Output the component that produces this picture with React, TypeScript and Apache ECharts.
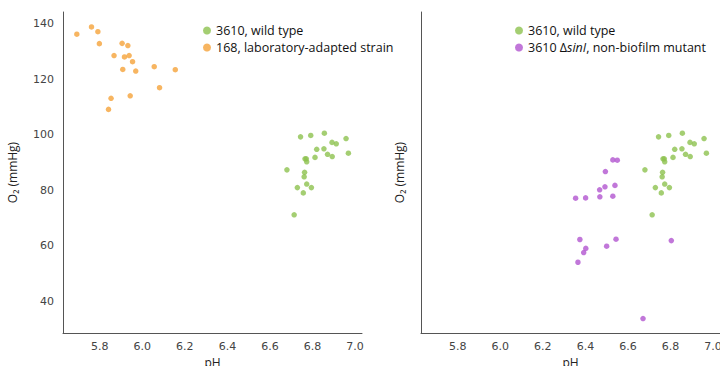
import React, { useEffect, useRef } from "react";
import * as echarts from "echarts";

const wildTypeName = "3610, wild type";
const labName = "168, laboratory-adapted strain";
const mutantName = "3610 Δ{i|sinI}, non-biofilm mutant";

const wildPH = [6.744, 6.792, 6.856, 6.892, 6.912, 6.958, 6.969, 6.82, 6.854, 6.871, 6.893, 6.812, 6.765, 6.771, 6.773, 6.68, 6.763, 6.761, 6.729, 6.773, 6.795, 6.757, 6.714];
const wildO2 = [99.3, 99.8, 100.6, 97.3, 96.8, 98.7, 93.4, 94.8, 95.0, 93.0, 92.2, 91.9, 91.4, 91.4, 90.3, 87.4, 86.5, 84.9, 81.0, 82.3, 81.0, 79.1, 71.2];

const labPH = [5.692, 5.761, 5.791, 5.798, 5.905, 5.932, 5.867, 5.916, 5.938, 5.954, 5.908, 5.969, 6.056, 6.155, 6.081, 5.943, 5.853, 5.841];
const labO2 = [136.3, 138.9, 137.2, 132.9, 133.0, 132.2, 128.6, 128.1, 128.6, 126.4, 123.6, 123.0, 124.6, 123.5, 117.0, 114.1, 113.2, 109.2];

const mutPH = [6.529, 6.55, 6.494, 6.467, 6.492, 6.539, 6.354, 6.401, 6.468, 6.529, 6.374, 6.544, 6.804, 6.402, 6.392, 6.5, 6.365, 6.671];
const mutO2 = [91.0, 90.9, 86.8, 80.2, 81.3, 81.8, 77.2, 77.3, 77.7, 77.9, 62.3, 62.4, 61.9, 59.1, 57.6, 59.9, 54.1, 33.8];

const xTicks = [5.8, 6.0, 6.2, 6.4, 6.6, 6.8, 7.0];
const yTicks = [40, 60, 80, 100, 120, 140];

const GREEN = "#8dc24f";
const ORANGE = "#f5a33a";
const PURPLE = "#b155cf";

const zip = (a: number[], b: number[]) => a.map((v, i) => [v, b[i]]);

export default function App() {
  const ref = useRef<HTMLDivElement>(null);
  useEffect(() => {
    if (!ref.current) return;
    const chart = echarts.init(ref.current, null, { renderer: "svg" });
    const axisLine = { show: true, lineStyle: { color: "#555", width: 1 } };
    const tickFont = { fontFamily: "DejaVu Sans", fontSize: 11, color: "#444" };
    const nameFont = { fontFamily: "Open Sans", fontSize: 12, color: "#222" };
    const xAxisBase = (gridIndex: number) => ({
      type: "value",
      gridIndex,
      min: 5.627,
      max: 7.033,
      axisLine,
      axisTick: { show: false },
      splitLine: { show: false },
      axisLabel: {
        ...tickFont,
        margin: 8,
        customValues: xTicks,
        formatter: (v: number) => v.toFixed(1),
      },
      name: "pH",
      nameLocation: "middle",
      nameGap: 21,
      nameTextStyle: nameFont,
    });
    const yAxisBase = (gridIndex: number, showLabels: boolean, gap: number) => ({
      type: "value",
      gridIndex,
      min: 28.6,
      max: 144.3,
      axisLine,
      axisTick: { show: false },
      splitLine: { show: false },
      axisLabel: {
        ...tickFont,
        show: showLabels,
        margin: 9,
        customValues: yTicks,
      },
      name: "O₂ (mmHg)",
      nameLocation: "middle",
      nameGap: gap,
      nameTextStyle: nameFont,
    });
    const legendBase = {
      orient: "vertical",
      icon: "circle",
      itemWidth: 8,
      itemHeight: 8,
      itemGap: 4,
      textStyle: {
        fontFamily: "Open Sans",
        fontSize: 12.5,
        color: "#111",
        rich: { i: { fontStyle: "italic", fontFamily: "Open Sans", fontSize: 12.5, color: "#111" } },
      },
      selectedMode: false,
    };
    chart.setOption({
      animation: false,
      grid: [
        { left: 63, top: 12, width: 299, bottom: 33, outerBoundsMode: "none", containLabel: false },
        { left: 421, top: 12, width: 299, bottom: 33, outerBoundsMode: "none", containLabel: false },
      ],
      xAxis: [xAxisBase(0), xAxisBase(1)],
      yAxis: [yAxisBase(0, true, 45), yAxisBase(1, false, 16)],
      legend: [
        { ...legendBase, left: 198, top: 19, data: [wildTypeName, labName] },
        { ...legendBase, left: 510, top: 19, data: [wildTypeName, mutantName] },
      ],
      series: [
        {
          type: "scatter",
          name: wildTypeName,
          xAxisIndex: 0,
          yAxisIndex: 0,
          symbolSize: 5.5,
          itemStyle: { color: GREEN },
          data: zip(wildPH, wildO2),
        },
        {
          type: "scatter",
          name: labName,
          xAxisIndex: 0,
          yAxisIndex: 0,
          symbolSize: 5.5,
          itemStyle: { color: ORANGE },
          data: zip(labPH, labO2),
        },
        {
          type: "scatter",
          name: wildTypeName,
          xAxisIndex: 1,
          yAxisIndex: 1,
          symbolSize: 5.5,
          itemStyle: { color: GREEN },
          data: zip(wildPH, wildO2),
        },
        {
          type: "scatter",
          name: mutantName,
          xAxisIndex: 1,
          yAxisIndex: 1,
          symbolSize: 5.5,
          itemStyle: { color: PURPLE },
          data: zip(mutPH, mutO2),
        },
      ],
    });
    return () => chart.dispose();
  }, []);
  return <div ref={ref} style={{ width: 720, height: 366, position: "absolute", left: 0, top: 0 }} />;
}
